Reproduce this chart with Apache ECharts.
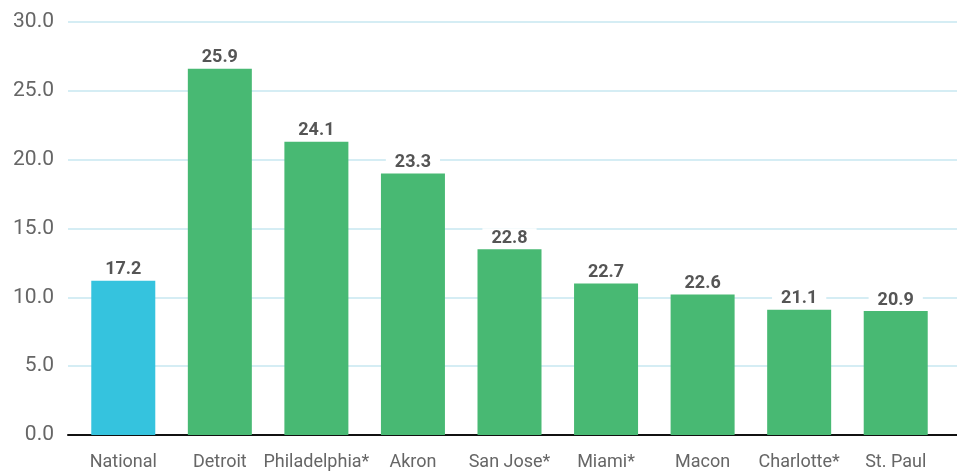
<!DOCTYPE html>
<html>
<head>
<meta charset="utf-8">
<script src="https://cdn.jsdelivr.net/npm/echarts@6/dist/echarts.min.js"></script>
<style>
  html, body { margin: 0; padding: 0; background: #fff; }
  #chart { width: 957px; height: 473px; }
</style>
</head>
<body>
<div id="chart"></div>
<script>
const categories = ["National", "Detroit", "Philadelphia*", "Akron", "San Jose*", "Miami*", "Macon", "Charlotte*", "St. Paul"];
// bar heights as drawn in the picture
const barValues = [11.2, 26.6, 21.3, 19.0, 13.5, 11.0, 10.2, 9.1, 9.0];
// numbers printed above the bars
const valueLabels = ["17.2", "25.9", "24.1", "23.3", "22.8", "22.7", "22.6", "21.1", "20.9"];
const yTicks = [0, 5, 10, 15, 20, 25, 30];

const chart = echarts.init(document.getElementById("chart"));

const fontFamily = "Roboto, 'Liberation Sans', sans-serif";

const option = {
  animation: false,
  grid: [
    // axes and grid lines
    { left: 68, right: 0, top: 22, bottom: 38 },
    // bars
    { left: 75, right: 13, top: 22, bottom: 38 },
  ],
  xAxis: [
    {
      gridIndex: 0,
      type: "category",
      data: [""],
      axisLine: { show: true, lineStyle: { color: "#111", width: 2 } },
      axisTick: { show: false },
      axisLabel: { show: false },
    },
    {
      gridIndex: 1,
      type: "category",
      data: categories,
      axisLine: { show: false },
      axisTick: { show: false },
      axisLabel: {
        color: "#666",
        fontSize: 18,
        fontFamily: fontFamily,
        margin: 18,
        interval: 0,
      },
    },
  ],
  yAxis: [
    {
      gridIndex: 0,
      type: "value",
      min: yTicks[0],
      max: yTicks[yTicks.length - 1],
      interval: 5,
      axisLine: { show: false },
      axisTick: { show: false },
      axisLabel: {
        color: "#666",
        fontSize: 21,
        fontFamily: fontFamily,
        margin: 14,
        formatter: (v) => v.toFixed(1),
      },
      splitLine: { lineStyle: { color: "#d5edf4", width: 2 } },
    },
    {
      gridIndex: 1,
      type: "value",
      min: yTicks[0],
      max: yTicks[yTicks.length - 1],
      interval: 5,
      show: false,
      splitLine: { show: false },
    },
  ],
  series: [
    {
      type: "bar",
      xAxisIndex: 1,
      yAxisIndex: 1,
      barWidth: 64,
      data: barValues.map((v, i) => ({
        value: v,
        itemStyle: { color: i === 0 ? "#35c3de" : "#48b973" },
      })),
      label: {
        show: true,
        position: "top",
        distance: 1,
        formatter: (p) => valueLabels[p.dataIndex],
        color: "#555",
        fontSize: 18,
        fontWeight: "bold",
        fontFamily: fontFamily,
        backgroundColor: "#fff",
        padding: [1, 9],
      },
    },
  ],
};

chart.setOption(option);
</script>
</body>
</html>
